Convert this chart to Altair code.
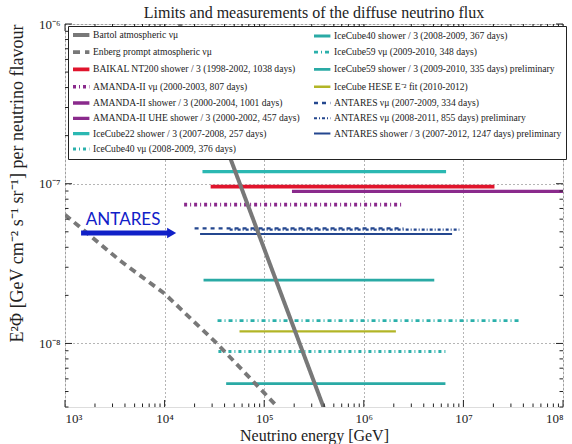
import altair as alt
import pandas as pd

# ---------------- data ----------------
names = [
    "Bartol atmospheric νμ",
    "Enberg prompt atmospheric νμ",
    "BAIKAL NT200 shower / 3 (1998-2002, 1038 days)",
    "AMANDA-II νμ (2000-2003, 807 days)",
    "AMANDA-II shower / 3 (2000-2004, 1001 days)",
    "AMANDA-II UHE shower / 3 (2000-2002, 457 days)",
    "IceCube22 shower / 3 (2007-2008, 257 days)",
    "IceCube40 νμ (2008-2009, 376 days)",
    "IceCube40 shower / 3 (2008-2009, 367 days)",
    "IceCube59 νμ (2009-2010, 348 days)",
    "IceCube59 shower / 3 (2009-2010, 335 days) preliminary",
    "IceCube HESE E⁻² fit (2010-2012)",
    "ANTARES νμ (2007-2009, 334 days)",
    "ANTARES νμ (2008-2011, 855 days) preliminary",
    "ANTARES shower / 3 (2007-2012, 1247 days) preliminary",
]
colors = ["#787878", "#787878", "#e0142c", "#8a2a8c", "#8a2a8c", "#8a2a8c",
          "#2bb8b2", "#2bb0ab", "#2aaaa5", "#2bb0ab", "#2aaaa5", "#b2b526",
          "#24478f", "#24478f", "#24478f"]
dashes = [[1, 0], [7, 5], [1, 0], [3, 3, 1, 3], [1, 0], [1, 0],
          [1, 0], [3, 3, 1, 3], [1, 0], [4, 3, 1, 3], [1, 0], [1, 0],
          [4, 4], [3, 2, 1, 2], [1, 0]]
widths = [4, 2, 4, 3.5, 2.5, 4, 2, 3.5, 3.5, 2, 5, 6, 2, 3.5, 1.5]

# horizontal limits: name index, E_min, E_max, E^2 Phi
seg_idx = [2, 3, 4, 5, 6, 7, 8, 9, 10, 11, 12, 13, 14]
seg_emin = [2.9e4, 1.57e4, 3.9e4, 1.9e5, 2.4e4, 3.47e4, 2.46e4, 3.4e4, 4.15e4, 5.65e4, 2.0e4, 4.5e4, 2.27e4]
seg_emax = [2.05e7, 2.5e6, 9.1e6, 1.0e9, 6.7e6, 6.85e6, 5.1e6, 3.6e7, 6.6e6, 2.1e6, 2.5e6, 9.1e6, 7.7e6]
seg_flux = [9.6e-8, 7.4e-8, 1.66e-7, 8.95e-8, 1.19e-7, 8.9e-9, 2.49e-8, 1.39e-8, 5.6e-9, 1.19e-8, 5.26e-8, 5.16e-8, 4.85e-8]

bartol_e = [1.0e4, 1.42e4, 3.3e4, 3.9e5, 5.0e5]
bartol_f = [1.8e-6, 1.0e-6, 2.48e-7, 4.06e-9, 2.6e-9]
enberg_e = [1.0e3, 3.57e3, 1.0e4, 3.35e4, 1.0e5, 1.34e5, 1.6e5]
enberg_f = [6.4e-8, 3.3e-8, 2.05e-8, 1.0e-8, 4.9e-9, 4.04e-9, 3.3e-9]

arrow_e = [1.45e3, 1.15e4]
arrow_f = [4.92e-8, 4.92e-8]
arrow_label = "ANTARES"
label_e = 3.83e3
label_f = 5.96e-8

x_major = [1e3, 1e4, 1e5, 1e6, 1e7, 1e8]
y_major = [1e-8, 1e-7, 1e-6]
x_minor = [m * 10 ** p for p in range(3, 8) for m in range(2, 10)]
y_minor = [m * 10 ** p for p in range(-9, -6) for m in range(2, 10) if m * 10 ** p >= 4e-9]

# --------------- tables ----------------
rows = []
for k, i in enumerate(seg_idx):
    rows.append({"name": names[i], "E": seg_emin[k], "F": seg_flux[k]})
    rows.append({"name": names[i], "E": seg_emax[k], "F": seg_flux[k]})
for e, f in zip(bartol_e, bartol_f):
    rows.append({"name": names[0], "E": e, "F": f})
for e, f in zip(enberg_e, enberg_f):
    rows.append({"name": names[1], "E": e, "F": f})
df = pd.DataFrame(rows)

dom = names

W, H = 498, 383
XD = [1e3, 1e8]
YD = [4e-9, 1e-6]
serif = "Liberation Serif"

xs = alt.Scale(type="log", domain=XD, nice=False)
ys = alt.Scale(type="log", domain=YD, nice=False)

sup = "['⁰','¹','²','³','⁴','⁵','⁶','⁷','⁸','⁹']"
x_axis = alt.Axis(values=x_major, labelExpr="'10' + " + sup + "[round(log(datum.value)/LN10)]",
                  title="Neutrino energy [GeV]", grid=True, gridDash=[1, 3], gridColor="#444",
                  gridWidth=0.8, ticks=False, domain=False, labelFont=serif, labelFontSize=13,
                  labelPadding=5, titleFont=serif, titleFontSize=16, titleFontWeight="normal",
                  titlePadding=2, labelColor="#222", titleColor="#222")
y_axis = alt.Axis(values=y_major, labelExpr="'10⁻' + " + sup + "[round(-log(datum.value)/LN10)]",
                  title="E²Φ [GeV cm⁻² s⁻¹ sr⁻¹] per neutrino flavour", grid=True, gridDash=[1, 3],
                  gridColor="#444", gridWidth=0.8, ticks=False, domain=False, labelFont=serif,
                  labelFontSize=13, labelPadding=5, titleFont=serif, titleFontSize=18,
                  titleFontWeight="normal", titleX=-48, titleY=159, titleBaseline="middle",
                  titleAlign="center", labelColor="#222", titleColor="#222")

legend = alt.Legend(title=None, orient="none", legendX=3, legendY=2, columns=2,
                    symbolType="M-4.1,0L4.1,0", symbolSize=16, symbolStrokeWidth=3,
                    labelFont=serif, labelFontSize=9.6, labelColor="#222", labelLimit=400,
                    rowPadding=1.3, columnPadding=8, fillColor="white", strokeColor="#222",
                    padding=4, cornerRadius=0, symbolOffset=4.4, labelOffset=7)

lines = alt.Chart(df).mark_line(clip=True, strokeCap="butt").encode(
    x=alt.X("E:Q", scale=xs, axis=x_axis),
    y=alt.Y("F:Q", scale=ys, axis=y_axis),
    color=alt.Color("name:N", scale=alt.Scale(domain=dom, range=colors), legend=legend),
    strokeDash=alt.StrokeDash("name:N", scale=alt.Scale(domain=dom, range=dashes), legend=legend),
    strokeWidth=alt.StrokeWidth("name:N", scale=alt.Scale(domain=dom, range=widths), legend=None),
)

adf = pd.DataFrame({"E": arrow_e, "F": arrow_f})
arrow = alt.Chart(adf).mark_line(color="#1020c8", strokeWidth=5, strokeCap="butt").encode(
    x=alt.X("E:Q", scale=xs), y=alt.Y("F:Q", scale=ys))
head = alt.Chart(adf.tail(1)).mark_point(shape="triangle-right", filled=True, color="#1020c8",
                                         size=110, opacity=1, xOffset=1).encode(
    x=alt.X("E:Q", scale=xs), y=alt.Y("F:Q", scale=ys))
text = alt.Chart(pd.DataFrame({"E": [label_e], "F": [label_f], "t": [arrow_label]})).mark_text(
    color="#1020c8", font="Lato", fontSize=17, baseline="middle", align="center").encode(
    x=alt.X("E:Q", scale=xs), y=alt.Y("F:Q", scale=ys), text="t:N")

tick_col = "#222"
def xticks(vals, length):
    d = pd.DataFrame({"E": vals})
    b = alt.Chart(d).mark_rule(color=tick_col, strokeWidth=1).encode(
        x=alt.X("E:Q", scale=xs), y=alt.value(H), y2=alt.value(H - length))
    t = alt.Chart(d).mark_rule(color=tick_col, strokeWidth=1).encode(
        x=alt.X("E:Q", scale=xs), y=alt.value(0), y2=alt.value(length))
    return b + t
def yticks(vals, length):
    d = pd.DataFrame({"F": vals})
    l = alt.Chart(d).mark_rule(color=tick_col, strokeWidth=1).encode(
        y=alt.Y("F:Q", scale=ys), x=alt.value(0), x2=alt.value(length))
    r = alt.Chart(d).mark_rule(color=tick_col, strokeWidth=1).encode(
        y=alt.Y("F:Q", scale=ys), x=alt.value(W), x2=alt.value(W - length))
    return l + r

chart = alt.layer(
    lines, arrow, head, text,
    xticks(x_major, 7), xticks(x_minor, 3.5), yticks(y_major, 7), yticks(y_minor, 3.5),
).properties(
    width=W, height=H,
    title=alt.TitleParams("Limits and measurements of the diffuse neutrino flux", font=serif,
                          fontSize=16, fontWeight="normal", color="#222", anchor="middle", offset=-3),
    autosize=alt.AutoSizeParams(type="none"),
    padding={"left": 65, "top": 24, "right": 9, "bottom": 37},
).configure_view(stroke="#111", strokeWidth=2).configure_legend(strokeWidth=1.5).configure(background="white")

chart.save("out.html", embed_options={"renderer": "svg", "actions": False})
